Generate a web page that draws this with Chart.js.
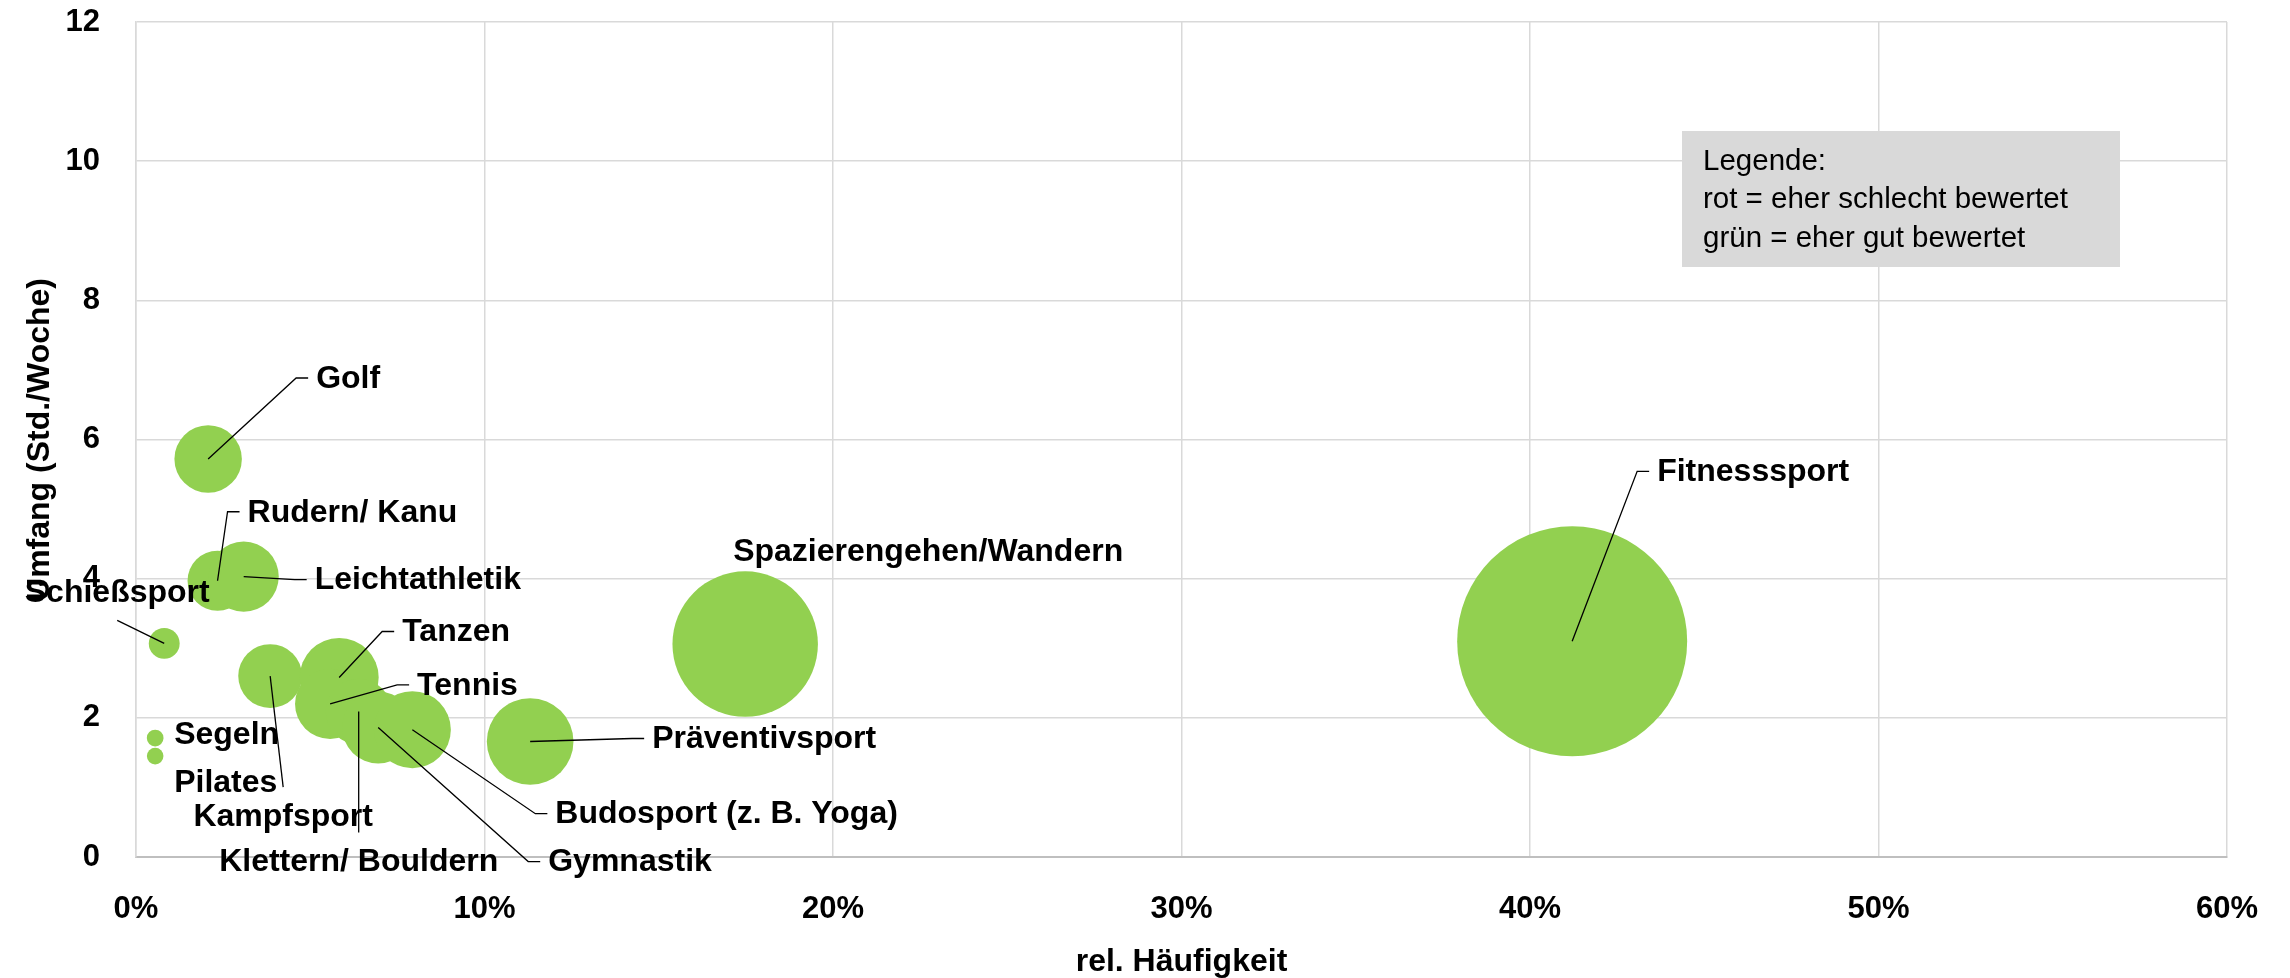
<!DOCTYPE html>
<html>
<head>
<meta charset="utf-8">
<script src="https://cdn.jsdelivr.net/npm/chart.js@4.4.1/dist/chart.umd.min.js"></script>
<style>
  html, body { margin: 0; padding: 0; background: #fff; }
  #wrap { width: 2290px; height: 978px; }
</style>
</head>
<body>
<div id="wrap"><canvas id="bubble-chart" width="2290" height="978"></canvas></div>
<script>
// Sportarten
var sports = [
  "Golf", "Rudern/ Kanu", "Leichtathletik", "Schießsport", "Segeln", "Pilates",
  "Kampfsport", "Tanzen", "Tennis", "Klettern/ Bouldern", "Gymnastik",
  "Budosport (z. B. Yoga)", "Präventivsport", "Spazierengehen/Wandern", "Fitnesssport"
];
// rel. Häufigkeit in %
var frequency = [2.07, 2.34, 3.09, 0.81, 0.55, 0.55, 3.85, 5.83, 5.57, 6.39, 6.95, 7.93, 11.31, 17.48, 41.21];
// Umfang in Std./Woche
var hours = [5.72, 3.97, 4.03, 3.07, 1.71, 1.45, 2.60, 2.58, 2.20, 2.09, 1.86, 1.83, 1.66, 3.06, 3.10];
// Blasengröße (relativ, Fitness = 100)
var weight = [8.6, 6.8, 9.3, 1.8, 0.53, 0.52, 7.7, 11.8, 9.3, 8.2, 9.8, 11.2, 14.2, 40.0, 100];

var xTickStep = 10;
var yTickStep = 2;

var legendLines = ["Legende:", "rot = eher schlecht bewertet", "grün = eher gut bewertet"];

// label placement: type, dx, dy (px from bubble centre)
var labelPlacement = [
  ["right", 88, -81],
  ["right", 10, -69],
  ["right", 51, 3],
  ["above", -47, -23],
  ["free", 19, -3],
  ["free", 19, 27],
  ["below", 13, 111],
  ["right", 43, -46],
  ["right", 67, -19],
  ["below", 0, 121],
  ["right", 150, 134],
  ["right", 123, 84],
  ["right", 102, -3],
  ["free", -12, -92],
  ["right", 65, -170]
];

var FONT = "'Liberation Sans', Arial, sans-serif";
var MAX_R = 115;
var maxWeight = Math.max.apply(null, weight);

var points = frequency.map(function (f, i) {
  return { x: f, y: hours[i], r: MAX_R * Math.sqrt(weight[i] / maxWeight) };
});

// leader lines and labels
var labelPlugin = {
  id: "bubbleLabels",
  afterDatasetsDraw: function (chart) {
    var ctx = chart.ctx;
    var meta = chart.getDatasetMeta(0);
    ctx.save();
    ctx.font = "bold 32px " + FONT;
    ctx.fillStyle = "#000";
    ctx.strokeStyle = "#000";
    ctx.lineWidth = 1.3;
    ctx.textBaseline = "middle";
    meta.data.forEach(function (el, i) {
      var p = labelPlacement[i];
      var cx = el.x, cy = el.y;
      var ex = cx + p[1], ey = cy + p[2];
      if (p[0] === "right") {
        ctx.beginPath();
        ctx.moveTo(cx, cy);
        ctx.lineTo(ex, ey);
        ctx.lineTo(ex + 12, ey);
        ctx.stroke();
        ctx.textAlign = "left";
        ctx.fillText(sports[i], ex + 20, ey + 1);
      } else if (p[0] === "above" || p[0] === "below") {
        ctx.beginPath();
        ctx.moveTo(cx, cy);
        ctx.lineTo(ex, ey);
        ctx.stroke();
        ctx.textAlign = "center";
        ctx.fillText(sports[i], ex, p[0] === "above" ? ey - 27 : ey + 30);
      } else {
        ctx.textAlign = "left";
        ctx.fillText(sports[i], ex, ey);
      }
    });

    // legend text box
    ctx.fillStyle = "#d9d9d9";
    ctx.fillRect(1682, 131, 438, 136);
    ctx.fillStyle = "#000";
    ctx.font = "29.5px " + FONT;
    ctx.textAlign = "left";
    legendLines.forEach(function (line, i) {
      ctx.fillText(line, 1703, 162 + i * 38.3);
    });
    ctx.restore();
  },
};

document.addEventListener("DOMContentLoaded", function () {
  var bubbleChart = document.getElementById("bubble-chart").getContext("2d");

  var tickFont = { family: FONT, size: 31, weight: "bold" };
  var titleFont = { family: FONT, size: 32, weight: "bold" };

  new Chart(bubbleChart, {
    type: "bubble",
    data: {
      datasets: [
        {
          label: "Sportarten",
          data: points,
          backgroundColor: "#92d050",
          borderWidth: 0,
          hoverBorderWidth: 0,
        },
      ],
    },
    options: {
      responsive: false,
      animation: false,
      events: [],
      layout: {
        autoPadding: false,
        padding: { left: 0, right: 63, top: 22, bottom: 0 },
      },
      plugins: {
        legend: { display: false },
        tooltip: { enabled: false },
      },
      scales: {
        x: {
          type: "linear",
          min: 0,
          max: 60,
          afterFit: function (scale) {
            scale.height = 121;
            scale.paddingLeft = 0;
            scale.paddingRight = 0;
          },
          ticks: {
            stepSize: xTickStep,
            color: "#000",
            font: tickFont,
            padding: 34,
            callback: function (value) {
              return value + "%";
            },
          },
          grid: { color: "#d9d9d9", lineWidth: 1.5, drawTicks: false },
          border: { color: "#bfbfbf", width: 2 },
          title: {
            display: true,
            text: "rel. Häufigkeit",
            color: "#000",
            font: titleFont,
            padding: { top: 0, bottom: -3 },
          },
        },
        y: {
          min: 0,
          max: 12,
          afterFit: function (scale) {
            scale.width = 136;
            scale.paddingTop = 0;
            scale.paddingBottom = 0;
          },
          ticks: {
            stepSize: yTickStep,
            color: "#000",
            font: tickFont,
            padding: 36,
          },
          grid: { color: "#d9d9d9", lineWidth: 1.5, drawTicks: false },
          border: { color: "#d9d9d9", width: 1.5 },
          title: {
            display: true,
            text: "Umfang (Std./Woche)",
            color: "#000",
            font: titleFont,
            padding: { top: 21, bottom: 0 },
          },
        },
      },
    },
    plugins: [labelPlugin],
  });
});
</script>
</body>
</html>
